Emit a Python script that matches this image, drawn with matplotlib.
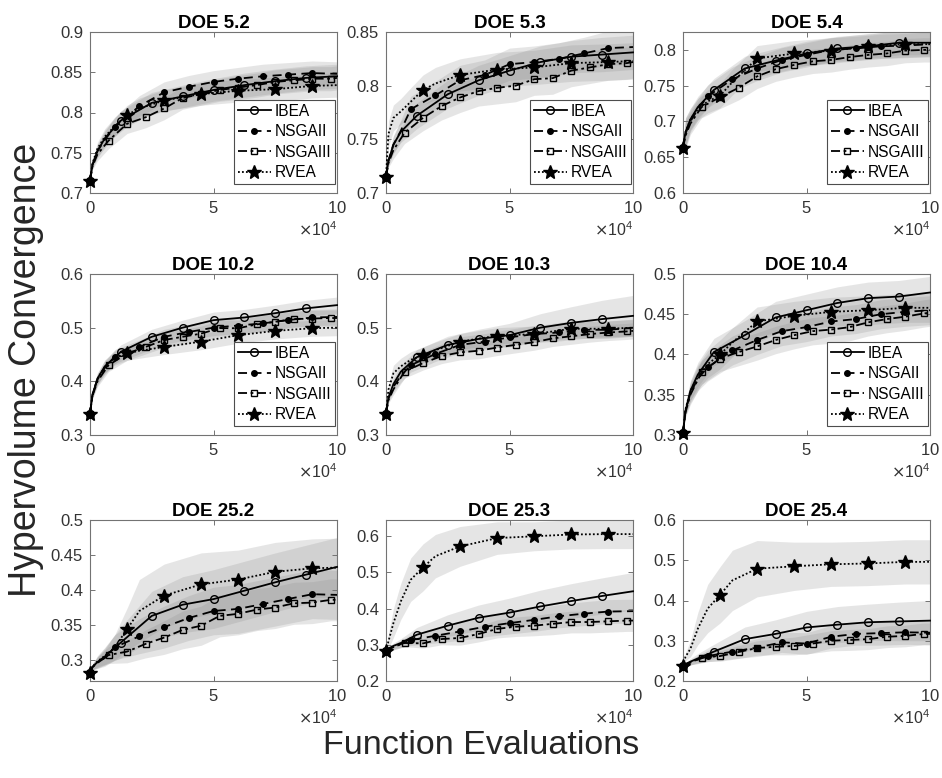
import matplotlib
matplotlib.use("Agg")
import matplotlib.pyplot as plt
from matplotlib.ticker import FuncFormatter

plt.rcParams['font.family'] = ['Liberation Sans', 'DejaVu Sans']

# panel titles, axis limits and y ticks
titles = ['DOE 5.2', 'DOE 5.3', 'DOE 5.4',
          'DOE 10.2', 'DOE 10.3', 'DOE 10.4',
          'DOE 25.2', 'DOE 25.3', 'DOE 25.4']
ylims = [(0.7, 0.9), (0.7, 0.85), (0.6, 0.825),
         (0.3, 0.6), (0.3, 0.6), (0.3, 0.5),
         (0.27, 0.5), (0.2, 0.645), (0.2, 0.6)]
yticks = [[0.7, 0.75, 0.8, 0.85, 0.9], [0.7, 0.75, 0.8, 0.85], [0.6, 0.65, 0.7, 0.75, 0.8],
          [0.3, 0.4, 0.5, 0.6], [0.3, 0.4, 0.5, 0.6], [0.3, 0.35, 0.4, 0.45, 0.5],
          [0.3, 0.35, 0.4, 0.45, 0.5], [0.2, 0.3, 0.4, 0.5, 0.6], [0.2, 0.3, 0.4, 0.5, 0.6]]
show_legend = [True, True, True, True, False, True, False, False, False]

algos = ['IBEA', 'NSGAII', 'NSGAIII', 'RVEA']

# function evaluations at which each algorithm is recorded
x_ibea = [0, 1000, 3000, 6000, 12500, 25000, 37500, 50000, 62500, 75000, 87500, 100000]
x_nsga2 = [0, 1000, 3000, 6000, 10000, 20000, 30000, 40000, 50000, 60000, 70000, 80000, 90000, 100000]
x_nsga3 = [0, 1000, 3000, 7500, 15000, 22500, 30000, 37500, 45000, 52500, 60000, 67500, 75000,
           82500, 90000, 97500, 100000]
x_rvea = [0, 1000, 3000, 6000, 10000, 15000, 20000, 30000, 45000, 60000, 75000, 90000, 100000]

# mean hypervolume, one list per panel (same order as titles)
ibea = [
    [0.715, 0.735, 0.752, 0.768, 0.79, 0.812, 0.82, 0.828, 0.834, 0.839, 0.843, 0.845],
    [0.715, 0.73, 0.745, 0.757, 0.772, 0.792, 0.805, 0.814, 0.822, 0.827, 0.829, 0.831],
    [0.663, 0.685, 0.703, 0.72, 0.744, 0.774, 0.785, 0.795, 0.802, 0.805, 0.81, 0.81],
    [0.34, 0.375, 0.405, 0.428, 0.455, 0.483, 0.5, 0.514, 0.519, 0.527, 0.536, 0.542],
    [0.34, 0.37, 0.395, 0.418, 0.445, 0.468, 0.479, 0.486, 0.5, 0.509, 0.516, 0.522],
    [0.303, 0.33, 0.355, 0.375, 0.403, 0.424, 0.446, 0.455, 0.464, 0.47, 0.472, 0.477],
    [0.282, 0.29, 0.297, 0.305, 0.325, 0.363, 0.379, 0.387, 0.399, 0.411, 0.422, 0.433],
    [0.283, 0.29, 0.297, 0.305, 0.328, 0.353, 0.375, 0.389, 0.406, 0.421, 0.435, 0.448],
    [0.237, 0.242, 0.248, 0.256, 0.273, 0.304, 0.317, 0.333, 0.34, 0.346, 0.348, 0.35],
]
nsga2 = [
    [0.715, 0.735, 0.752, 0.766, 0.782, 0.808, 0.825, 0.832, 0.838, 0.842, 0.845, 0.847, 0.849, 0.848],
    [0.715, 0.73, 0.745, 0.758, 0.778, 0.791, 0.805, 0.81, 0.82, 0.822, 0.825, 0.83, 0.835, 0.836],
    [0.663, 0.683, 0.7, 0.717, 0.735, 0.759, 0.774, 0.786, 0.793, 0.8, 0.802, 0.805, 0.806, 0.808],
    [0.34, 0.375, 0.403, 0.425, 0.446, 0.464, 0.483, 0.492, 0.5, 0.504, 0.508, 0.514, 0.519, 0.52],
    [0.34, 0.368, 0.39, 0.41, 0.43, 0.451, 0.468, 0.474, 0.482, 0.488, 0.491, 0.496, 0.496, 0.5],
    [0.303, 0.33, 0.352, 0.37, 0.384, 0.405, 0.418, 0.429, 0.434, 0.441, 0.444, 0.45, 0.453, 0.455],
    [0.282, 0.29, 0.296, 0.303, 0.318, 0.334, 0.347, 0.36, 0.37, 0.373, 0.38, 0.387, 0.394, 0.393],
    [0.283, 0.288, 0.294, 0.302, 0.313, 0.325, 0.337, 0.35, 0.36, 0.369, 0.379, 0.386, 0.392, 0.393],
    [0.237, 0.241, 0.246, 0.253, 0.262, 0.273, 0.283, 0.296, 0.293, 0.31, 0.317, 0.319, 0.321, 0.32],
]
nsga3 = [
    [0.715, 0.733, 0.748, 0.765, 0.786, 0.794, 0.805, 0.818, 0.823, 0.828, 0.831, 0.834, 0.838, 0.84, 0.842, 0.842, 0.843],
    [0.715, 0.728, 0.74, 0.756, 0.77, 0.781, 0.789, 0.795, 0.798, 0.8, 0.806, 0.807, 0.814, 0.817, 0.82, 0.821, 0.822],
    [0.663, 0.68, 0.697, 0.72, 0.734, 0.747, 0.763, 0.773, 0.779, 0.784, 0.786, 0.79, 0.793, 0.795, 0.799, 0.8, 0.8],
    [0.34, 0.373, 0.4, 0.43, 0.452, 0.464, 0.477, 0.483, 0.489, 0.499, 0.499, 0.506, 0.511, 0.516, 0.517, 0.518, 0.518],
    [0.34, 0.365, 0.385, 0.418, 0.434, 0.447, 0.454, 0.457, 0.463, 0.468, 0.473, 0.48, 0.484, 0.488, 0.491, 0.493, 0.494],
    [0.303, 0.328, 0.35, 0.378, 0.395, 0.403, 0.41, 0.418, 0.424, 0.429, 0.431, 0.434, 0.44, 0.444, 0.447, 0.451, 0.452],
    [0.282, 0.29, 0.296, 0.307, 0.312, 0.323, 0.332, 0.343, 0.349, 0.363, 0.366, 0.372, 0.375, 0.381, 0.382, 0.386, 0.386],
    [0.283, 0.288, 0.294, 0.305, 0.304, 0.316, 0.319, 0.33, 0.344, 0.35, 0.353, 0.358, 0.363, 0.363, 0.365, 0.367, 0.367],
    [0.237, 0.241, 0.246, 0.258, 0.262, 0.272, 0.282, 0.285, 0.287, 0.293, 0.3, 0.302, 0.304, 0.31, 0.312, 0.317, 0.317],
]
rvea = [
    [0.715, 0.737, 0.755, 0.77, 0.783, 0.797, 0.805, 0.815, 0.823, 0.827, 0.829, 0.833, 0.834],
    [0.715, 0.755, 0.77, 0.776, 0.785, 0.796, 0.802, 0.81, 0.815, 0.817, 0.821, 0.822, 0.823],
    [0.663, 0.685, 0.703, 0.717, 0.728, 0.736, 0.755, 0.788, 0.795, 0.799, 0.805, 0.808, 0.808],
    [0.34, 0.375, 0.405, 0.427, 0.443, 0.452, 0.457, 0.464, 0.474, 0.486, 0.494, 0.499, 0.5],
    [0.34, 0.385, 0.415, 0.428, 0.44, 0.449, 0.458, 0.474, 0.485, 0.488, 0.498, 0.498, 0.5],
    [0.303, 0.332, 0.355, 0.372, 0.388, 0.4, 0.415, 0.441, 0.448, 0.453, 0.455, 0.458, 0.458],
    [0.282, 0.29, 0.298, 0.306, 0.318, 0.344, 0.37, 0.392, 0.408, 0.415, 0.426, 0.431, 0.432],
    [0.283, 0.31, 0.36, 0.42, 0.48, 0.514, 0.545, 0.572, 0.595, 0.6, 0.605, 0.606, 0.606],
    [0.237, 0.26, 0.28, 0.33, 0.38, 0.414, 0.45, 0.479, 0.485, 0.49, 0.492, 0.496, 0.496],
]

# half-width of the shaded spread around each mean, same layout
ibea_sd = [
    [0, .004, .008, .01, .012, .013, .014, .014, .015, .015, .015, .015],
    [0, .004, .008, .01, .012, .013, .014, .014, .015, .015, .016, .016],
    [0, .02, .015, .015, .016, .017, .017, .017, .017, .017, .017, .017],
    [0, .006, .01, .012, .013, .014, .014, .015, .015, .015, .015, .015],
    [0, .006, .01, .012, .014, .016, .018, .022, .026, .03, .035, .038],
    [0, .006, .012, .015, .017, .018, .02, .02, .02, .02, .02, .02],
    [0, .004, .008, .012, .022, .035, .04, .042, .042, .042, .042, .042],
    [0, .004, .008, .012, .02, .03, .035, .04, .045, .048, .05, .052],
    [0, .004, .008, .012, .018, .03, .035, .04, .045, .045, .048, .05],
]
nsga2_sd = [
    [0, .004, .008, .01, .012, .013, .013, .014, .014, .014, .015, .015, .015, .015],
    [0, .004, .008, .01, .012, .013, .014, .014, .015, .015, .015, .015, .016, .016],
    [0, .02, .015, .015, .016, .017, .017, .017, .017, .017, .017, .017, .017, .017],
    [0, .006, .01, .012, .013, .013, .014, .014, .015, .015, .015, .015, .015, .015],
    [0, .006, .01, .012, .013, .014, .015, .015, .015, .016, .016, .016, .016, .016],
    [0, .006, .012, .015, .017, .018, .018, .018, .018, .018, .018, .018, .018, .018],
    [0, .004, .008, .012, .018, .025, .03, .032, .034, .035, .035, .035, .035, .035],
    [0, .004, .008, .01, .015, .02, .025, .028, .03, .032, .032, .033, .033, .033],
    [0, .004, .006, .01, .014, .018, .022, .025, .027, .028, .028, .03, .03, .03],
]
nsga3_sd = [
    [0, .004, .008, .01, .012, .013, .014, .014, .014, .014, .015, .015, .015, .015, .015, .015, .015],
    [0, .004, .008, .01, .012, .013, .014, .014, .015, .015, .015, .015, .015, .015, .015, .015, .015],
    [0, .02, .015, .015, .016, .017, .017, .017, .017, .017, .017, .017, .017, .017, .017, .017, .017],
    [0, .006, .01, .012, .013, .013, .014, .014, .014, .015, .015, .015, .015, .015, .015, .015, .015],
    [0, .006, .01, .012, .013, .014, .014, .015, .015, .015, .015, .015, .015, .015, .015, .015, .015],
    [0, .006, .012, .015, .016, .017, .017, .017, .017, .017, .017, .017, .017, .017, .017, .017, .017],
    [0, .004, .008, .012, .016, .02, .024, .027, .028, .03, .03, .03, .03, .03, .03, .03, .03],
    [0, .004, .008, .01, .013, .016, .02, .022, .025, .027, .028, .03, .03, .03, .03, .03, .03],
    [0, .004, .006, .01, .013, .016, .018, .02, .022, .024, .025, .026, .026, .027, .027, .027, .027],
]
rvea_sd = [
    [0, .004, .008, .01, .011, .012, .013, .013, .014, .014, .015, .015, .015],
    [0, .012, .012, .012, .013, .014, .015, .015, .016, .016, .017, .017, .017],
    [0, .02, .015, .015, .016, .017, .018, .018, .018, .018, .018, .018, .018],
    [0, .006, .01, .012, .013, .013, .014, .014, .015, .015, .015, .015, .015],
    [0, .01, .015, .015, .015, .015, .015, .015, .015, .015, .015, .015, .015],
    [0, .006, .012, .015, .017, .018, .018, .018, .018, .018, .018, .018, .018],
    [0, .004, .008, .012, .018, .03, .045, .045, .045, .042, .042, .042, .042],
    [0, .02, .04, .05, .06, .065, .06, .055, .045, .04, .04, .04, .04],
    [0, .01, .02, .04, .06, .07, .075, .07, .06, .055, .055, .055, .055],
]

series = [
    ('IBEA', x_ibea, ibea, ibea_sd, dict(ls='-', marker='o', mfc='none', ms=5.5), 12500),
    ('NSGAII', x_nsga2, nsga2, nsga2_sd, dict(ls=(0, (5, 3)), marker='o', mfc='black', ms=4), 10000),
    ('NSGAIII', x_nsga3, nsga3, nsga3_sd, dict(ls=(0, (5, 2, 1.5, 2)), marker='s', mfc='none', ms=5), 7500),
    ('RVEA', x_rvea, rvea, rvea_sd, dict(ls=(0, (1, 1.2)), marker='*', mfc='black', ms=10), 15000),
]

fig = plt.figure(figsize=(9.42, 7.78), dpi=100)
W, H = 942.0, 778.0
col_left = [90, 386, 683]
row_top = [32, 274, 520]
aw, ah = 247, 161

for k in range(9):
    r, c = divmod(k, 3)
    ax = fig.add_axes([col_left[c] / W, 1 - (row_top[r] + ah) / H, aw / W, ah / H])
    for name, xs, means, sds, style, step in series:
        m = means[k]
        s = sds[k]
        ax.fill_between(xs, [a - b for a, b in zip(m, s)], [a + b for a, b in zip(m, s)],
                        color='0.55', alpha=0.22, lw=0)
    for name, xs, means, sds, style, step in series:
        marks = [i for i, x in enumerate(xs) if x % step == 0 and x < 100000]
        ax.plot(xs, means[k], color='black', lw=1.3, mec='black', mew=1.0,
                markevery=marks, label=name, clip_on=False, zorder=3, **style)
    ax.set_xlim(0, 100000)
    ax.set_ylim(*ylims[k])
    ax.set_xticks([0, 50000, 100000])
    ax.set_yticks(yticks[k])
    ax.yaxis.set_major_formatter(FuncFormatter(lambda v, p: '%g' % round(v, 3)))
    ax.ticklabel_format(axis='x', style='sci', scilimits=(4, 4), useMathText=True)
    ax.xaxis.get_offset_text().set_fontsize(11.5)
    ax.xaxis.get_offset_text().set_color('0.2')
    ax.tick_params(direction='in', top=True, right=True, length=3.5, width=0.7,
                   labelsize=12, colors='0.45', labelcolor='0.2', pad=5)
    for sp in ax.spines.values():
        sp.set_color('0.45')
        sp.set_linewidth(0.8)
    ax.set_title(titles[k], fontsize=13.5, fontweight='bold', pad=3)
    if show_legend[k]:
        leg = ax.legend(loc='lower right', bbox_to_anchor=(1 - 2 / aw, 9 / ah),
                        fontsize=11.2, fancybox=False, framealpha=1,
                        edgecolor='0.3', handlelength=2.1, handletextpad=0.25,
                        labelspacing=0.35, borderpad=0.25, borderaxespad=0)
        leg.get_frame().set_linewidth(0.8)

fig.text(26 / W, 1 - 370 / H, 'Hypervolume Convergence', rotation=90, fontsize=27,
         ha='center', va='center', color='0.15')
fig.text(481 / W, 1 - 745 / H, 'Function Evaluations', fontsize=24.5,
         ha='center', va='center', color='0.15')

fig.savefig('out.png', dpi=100)
